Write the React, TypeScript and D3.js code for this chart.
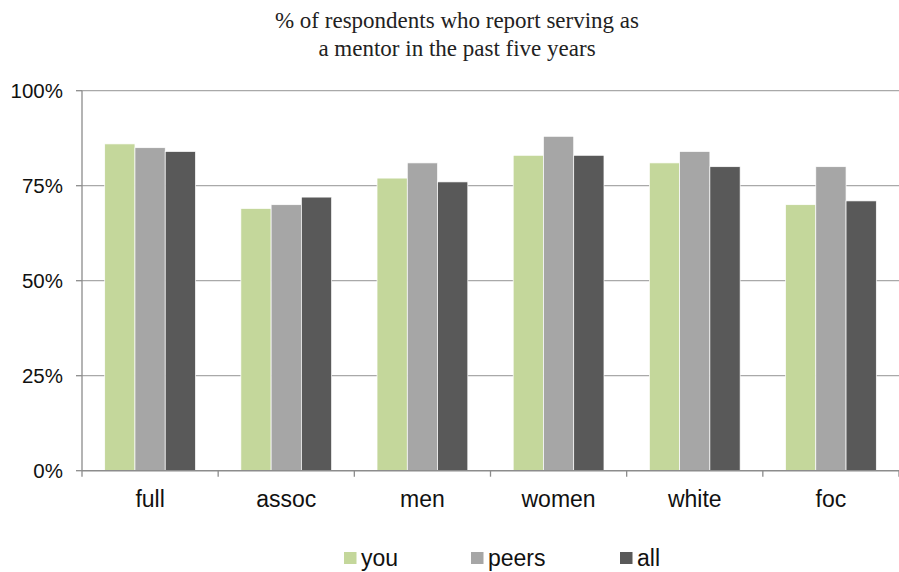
import React from "react";
import * as d3 from "d3";

const categories = ["full", "assoc", "men", "women", "white", "foc"];
const seriesNames = ["you", "peers", "all"];
const youValues = [86, 69, 77, 83, 81, 70];
const peersValues = [85, 70, 81, 88, 84, 80];
const allValues = [84, 72, 76, 83, 80, 71];
const yTicks = [0, 25, 50, 75, 100];
const titleLines = ["% of respondents who report serving as", "a mentor in the past five years"];

const colors = ["#C4D79B", "#A6A6A6", "#595959"];
const W = 899;
const H = 572;
const margin = { left: 82, right: 0, top: 90.7, bottom: 101.3 };

export default function App() {
  const series = [youValues, peersValues, allValues];
  const x = d3
    .scaleBand<string>()
    .domain(categories)
    .range([margin.left, W - margin.right]);
  const bw = x.bandwidth();
  const inner = d3
    .scaleBand<string>()
    .domain(seriesNames)
    .range([bw / 6, bw - bw / 6]);
  const y = d3
    .scaleLinear()
    .domain([0, 100])
    .range([H - margin.bottom, margin.top]);
  const y0 = y(0);
  const sans = "'Liberation Sans', Arial, sans-serif";
  const boundaries = d3.range(categories.length + 1).map((i) => margin.left + i * bw);

  return (
    <svg
      width={W}
      height={H}
      style={{ position: "absolute", left: 0, top: 0, background: "#fff" }}
    >
      {titleLines.map((t, i) => (
        <text
          key={i}
          x={457}
          y={28 + i * 28}
          textAnchor="middle"
          fontFamily="'Liberation Serif', 'DejaVu Serif', serif"
          fontSize={23}
          fill="#222"
        >
          {t}
        </text>
      ))}
      {yTicks.map((t) => (
        <g key={t}>
          {t > 0 && (
            <line x1={margin.left} x2={W} y1={y(t)} y2={y(t)} stroke="#A9A9A9" strokeWidth={1.3} />
          )}
          <line x1={margin.left - 6} x2={margin.left} y1={y(t)} y2={y(t)} stroke="#8C8C8C" strokeWidth={1.3} />
          <text
            x={63}
            y={y(t)}
            dy="0.36em"
            textAnchor="end"
            fontFamily={sans}
            fontSize={20.5}
            fill="#111"
          >
            {t}%
          </text>
        </g>
      ))}
      {categories.map((c, ci) => (
        <g key={c}>
          {series.map((vals, si) => (
            <rect
              key={si}
              x={(x(c) as number) + (inner(seriesNames[si]) as number)}
              y={y(vals[ci])}
              width={inner.bandwidth()}
              height={y0 - y(vals[ci])}
              fill={colors[si]}
              stroke="#fff"
              strokeWidth={0.7}
            />
          ))}
          <text
            x={(x(c) as number) + bw / 2}
            y={507}
            textAnchor="middle"
            fontFamily={sans}
            fontSize={23}
            fill="#111"
          >
            {c}
          </text>
        </g>
      ))}
      <line x1={margin.left} x2={margin.left} y1={margin.top} y2={y0} stroke="#8C8C8C" strokeWidth={1.3} />
      <line x1={margin.left} x2={W} y1={y0} y2={y0} stroke="#8C8C8C" strokeWidth={1.5} />
      {boundaries.map((b, i) => (
        <line key={i} x1={b} x2={b} y1={y0} y2={y0 + 6} stroke="#8C8C8C" strokeWidth={1.3} />
      ))}
      {seriesNames.map((s, i) => {
        const lx = [344, 471, 620][i];
        return (
          <g key={s}>
            <rect x={lx} y={552} width={12.5} height={12} fill={colors[i]} />
            <text x={lx + 17} y={566} fontFamily={sans} fontSize={23} fill="#111">
              {s}
            </text>
          </g>
        );
      })}
    </svg>
  );
}
